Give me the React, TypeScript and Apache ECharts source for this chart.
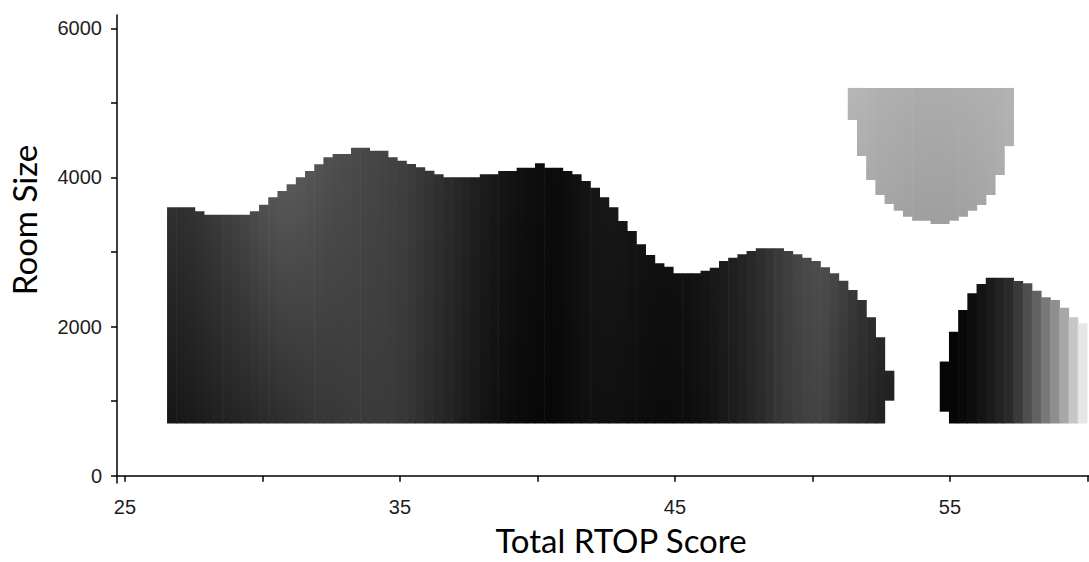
import React, { useEffect, useRef } from "react";
import * as echarts from "echarts";

// Axis ranges and ticks
const X_MIN = 24.71;
const X_MAX = 60.055;
const Y_MIN = -98;
const Y_MAX = 6178;
const X_TICKS = [25, 30, 35, 40, 45, 50, 55, 60];
const X_LABELS = [25, 35, 45, 55];
const Y_TICKS = [0, 1000, 2000, 3000, 4000, 5000, 6000];
const Y_LABELS = [0, 2000, 4000, 6000];

// Raster grid (tile columns along Total RTOP Score)
const COL_X0 = 26.53;
const COL_W = 0.3345;

// Main dark region: columns 0..78
const mainFirstCol = 0;
const mainTop = [
  3600, 3600, 3600, 3545, 3500, 3500, 3500, 3500, 3500, 3545,
  3634, 3733, 3818, 3908, 4002, 4086, 4176, 4270, 4314, 4314,
  4398, 4398, 4358, 4358, 4270, 4224, 4180, 4136, 4090, 4042,
  4002, 4002, 4002, 4002, 4042, 4042, 4086, 4086, 4130, 4130,
  4189, 4130, 4130, 4086, 4042, 3952, 3862, 3733, 3600, 3415,
  3281, 3103, 2960, 2848, 2803, 2714, 2714, 2714, 2749, 2789,
  2879, 2923, 2969, 3013, 3049, 3049, 3049, 3013, 2969, 2923,
  2879, 2795, 2714, 2615, 2490, 2356, 2124, 1856, 1408,
];
const mainBottom = [
  700, 700, 700, 700, 700, 700, 700, 700, 700, 700,
  700, 700, 700, 700, 700, 700, 700, 700, 700, 700,
  700, 700, 700, 700, 700, 700, 700, 700, 700, 700,
  700, 700, 700, 700, 700, 700, 700, 700, 700, 700,
  700, 700, 700, 700, 700, 700, 700, 700, 700, 700,
  700, 700, 700, 700, 700, 700, 700, 700, 700, 700,
  700, 700, 700, 700, 700, 700, 700, 700, 700, 700,
  700, 700, 700, 700, 700, 700, 700, 700, 1006,
];
const mainUpperShade = [
  48, 48, 50, 52, 55, 58, 62, 66, 70, 75,
  80, 84, 87, 88, 87, 85, 83, 80, 78, 76,
  74, 72, 70, 68, 66, 63, 60, 56, 52, 48,
  44, 40, 36, 32, 28, 25, 22, 19, 17, 15,
  13, 12, 12, 14, 17, 20, 22, 23, 23, 22,
  20, 18, 17, 16, 16, 16, 17, 19, 22, 25,
  28, 32, 36, 41, 46, 52, 58, 64, 70, 74,
  76, 75, 70, 63, 56, 50, 45, 40, 36,
];
const mainLowerShade = [
  22, 24, 26, 28, 30, 32, 34, 36, 38, 40,
  42, 44, 46, 48, 50, 52, 54, 55, 56, 57,
  58, 58, 58, 58, 57, 55, 52, 48, 44, 40,
  36, 32, 28, 24, 20, 17, 14, 12, 10, 9,
  8, 8, 9, 11, 13, 15, 16, 16, 16, 15,
  14, 13, 12, 11, 11, 12, 13, 15, 17, 20,
  24, 28, 32, 37, 42, 48, 54, 58, 62, 65,
  66, 64, 58, 52, 46, 42, 38, 34, 32,
];

// Right lower region: columns 84..99
const rightFirstCol = 84;
const rightTop = [1531, 1931, 2222, 2446, 2571, 2655, 2655, 2655, 2611, 2580, 2481, 2392, 2356, 2253, 2124, 2044];
const rightBottom = [858, 700, 700, 700, 700, 700, 700, 700, 700, 700, 700, 700, 700, 700, 700, 700];
const rightUpperShade = [5, 5, 9, 13, 20, 27, 34, 42, 58, 78, 98, 120, 143, 168, 198, 230];
const rightLowerShade = [5, 5, 9, 13, 20, 27, 34, 42, 58, 78, 98, 120, 143, 168, 198, 230];

// Upper light region: columns 74..91
const upperFirstCol = 74;
const upperTop = [5200, 5200, 5200, 5200, 5200, 5200, 5200, 5200, 5200, 5200, 5200, 5200, 5200, 5200, 5200, 5200, 5200, 5200];
const upperBottom = [4770, 4287, 3965, 3764, 3643, 3554, 3473, 3420, 3420, 3375, 3375, 3420, 3473, 3554, 3630, 3764, 4032, 4419];
const upperUpperShade = [182, 180, 178, 176, 175, 174, 173, 172, 172, 172, 172, 173, 173, 174, 175, 176, 177, 178];
const upperLowerShade = [178, 174, 170, 167, 165, 163, 161, 160, 159, 159, 159, 160, 161, 163, 165, 168, 172, 176];

function buildTiles(first: number, tops: number[], bottoms: number[], up: number[], lo: number[]) {
  return tops.map((t, i) => {
    const x0 = COL_X0 + (first + i) * COL_W;
    return [x0, x0 + COL_W, bottoms[i], t, up[i], lo[i]];
  });
}

const shade = (g: number) => `rgb(${g},${g},${g})`;

const renderTile = (_params: any, api: any) => {
  const x0 = api.value(0);
  const x1 = api.value(1);
  const yb = api.value(2);
  const yt = api.value(3);
  const up = api.value(4);
  const lo = api.value(5);
  const tl = api.coord([x0, yt]);
  const br = api.coord([x1, yb]);
  return {
    type: "rect",
    shape: { x: tl[0], y: tl[1], width: br[0] - tl[0] + 0.6, height: br[1] - tl[1] },
    style: {
      fill: new echarts.graphic.LinearGradient(0, 0, 0, 1, [
        { offset: 0, color: shade(up) },
        { offset: 1, color: shade(lo) },
      ]),
    },
  };
};

export default function App() {
  const ref = useRef<HTMLDivElement>(null);
  useEffect(() => {
    if (!ref.current) return;
    const chart = echarts.init(ref.current, undefined, { renderer: "svg" });
    const tickFont = {
      fontFamily: "Liberation Sans, Arial, sans-serif",
      fontSize: 20,
      color: "#1e1e1e",
      formatter: (v: number) => String(v),
    };
    const series = [
      buildTiles(mainFirstCol, mainTop, mainBottom, mainUpperShade, mainLowerShade),
      buildTiles(rightFirstCol, rightTop, rightBottom, rightUpperShade, rightLowerShade),
      buildTiles(upperFirstCol, upperTop, upperBottom, upperUpperShade, upperLowerShade),
    ].map((data) => ({
      type: "custom",
      renderItem: renderTile,
      data,
      encode: { x: [0, 1], y: [2, 3] },
      silent: true,
    }));
    chart.setOption({
      animation: false,
      backgroundColor: "#fff",
      grid: { left: 117, top: 15, width: 972, height: 468 },
      xAxis: {
        type: "value",
        min: X_MIN,
        max: X_MAX,
        splitLine: { show: false },
        axisLine: { show: true, lineStyle: { color: "#000", width: 1.5 } },
        axisTick: { show: true, length: 6, lineStyle: { color: "#000", width: 1.5 }, customValues: X_TICKS },
        axisLabel: { ...tickFont, margin: 14, customValues: X_LABELS },
      },
      yAxis: {
        type: "value",
        min: Y_MIN,
        max: Y_MAX,
        splitLine: { show: false },
        axisLine: { show: true, lineStyle: { color: "#000", width: 1.5 } },
        axisTick: { show: true, length: 6, lineStyle: { color: "#000", width: 1.5 }, customValues: Y_TICKS },
        axisLabel: { ...tickFont, margin: 15, customValues: Y_LABELS },
      },
      graphic: [
        {
          type: "text",
          x: 621,
          y: 540,
          style: {
            text: "Total RTOP Score",
            fontFamily: "Lato, sans-serif",
            fontSize: 33,
            fill: "#000",
            align: "center",
            verticalAlign: "middle",
          },
        },
        {
          type: "text",
          x: 24,
          y: 220,
          rotation: Math.PI / 2,
          style: {
            text: "Room Size",
            fontFamily: "Lato, sans-serif",
            fontSize: 33,
            fill: "#000",
            align: "center",
            verticalAlign: "middle",
          },
        },
      ],
      series,
    });
    return () => chart.dispose();
  }, []);
  return <div ref={ref} style={{ position: "fixed", left: 0, top: 0, width: 1089, height: 562 }} />;
}
